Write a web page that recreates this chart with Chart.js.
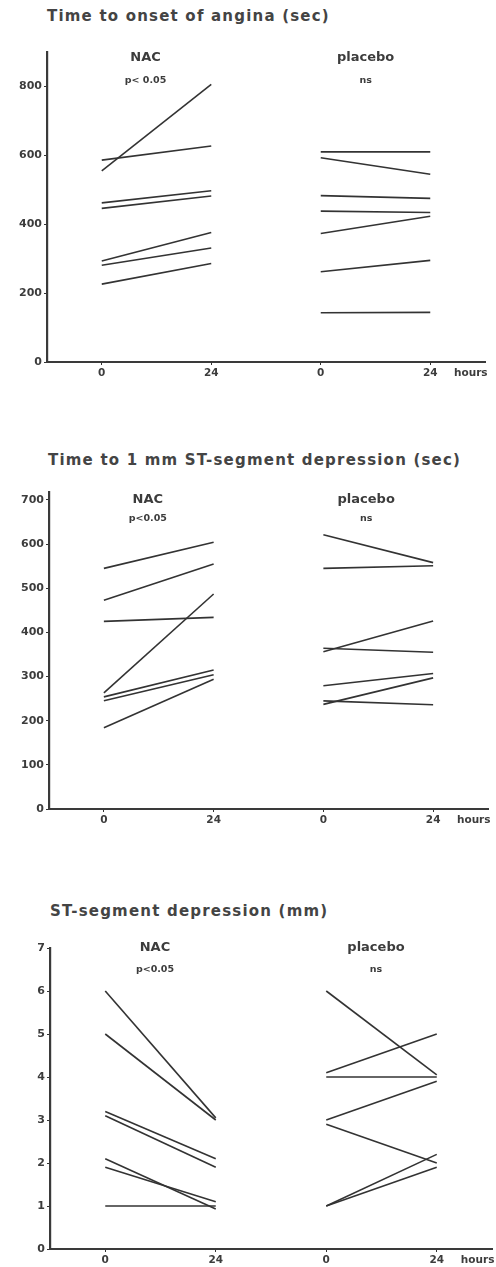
<!DOCTYPE html>
<html>
<head>
<meta charset="utf-8">
<script src="https://cdn.jsdelivr.net/npm/chart.js@4.4.1/dist/chart.umd.min.js"></script>
<style>
  body { margin:0; background:#fff; width:496px; height:1267px; position:relative; overflow:hidden; font-family:'DejaVu Sans', sans-serif; }
  .title { position:absolute; font-size:15px; font-weight:bold; color:#444; white-space:nowrap; letter-spacing:1.2px; }
  .panel { position:absolute; left:0; width:496px; }
</style>
</head>
<body>
<div class="title" style="left:47px;top:7px;">Time to onset of angina (sec)</div>
<div class="panel" style="top:40px;height:350px;"><canvas id="chart-angina"></canvas></div>

<div class="title" style="left:48px;top:451px;">Time to 1 mm ST-segment depression (sec)</div>
<div class="panel" style="top:480px;height:360px;"><canvas id="chart-st-time"></canvas></div>

<div class="title" style="left:50px;top:902px;">ST-segment depression (mm)</div>
<div class="panel" style="top:935px;height:332px;"><canvas id="chart-st-dep"></canvas></div>

<script>
// x positions: NAC 0h / 24h, placebo 0h / 24h
const xTickValues = [1, 2, 3, 4, 4.37];
const xTickLabels = ['0', '24', '0', '24', 'hours'];

// Time to onset of angina (sec)
const anginaNacBaseline     = [555, 586, 462, 446, 293, 281, 226];
const anginaNac24h          = [806, 627, 497, 482, 376, 331, 286];
const anginaPlaceboBaseline = [610, 593, 483, 438, 373, 262, 143];
const anginaPlacebo24h      = [610, 545, 475, 434, 423, 295, 144];
const anginaTicks = [0, 200, 400, 600, 800];

// Time to 1 mm ST-segment depression (sec)
const stTimeNacBaseline     = [545, 473, 425, 263, 254, 245, 184];
const stTimeNac24h          = [604, 555, 434, 487, 315, 304, 294];
const stTimePlaceboBaseline = [621, 545, 356, 364, 279, 237, 245];
const stTimePlacebo24h      = [558, 551, 426, 355, 307, 297, 236];
const stTimeTicks = [0, 100, 200, 300, 400, 500, 600, 700];

// ST-segment depression (mm)
const stDepNacBaseline     = [6, 5, 3.2, 3.1, 2.1, 1.9, 1.0];
const stDepNac24h          = [3.05, 3.0, 2.1, 1.9, 0.93, 1.1, 1.0];
const stDepPlaceboBaseline = [6, 4.1, 4.0, 3.0, 2.9, 1.0, 1.0];
const stDepPlacebo24h      = [4.05, 5.0, 4.0, 3.9, 2.0, 2.2, 1.9];
const stDepTicks = [0, 1, 2, 3, 4, 5, 6, 7];

const INK = '#333';
const FONT = "'DejaVu Sans', sans-serif";

// draws "NAC / p<0.05" and "placebo / ns" above each group
const groupLabels = {
  id: 'groupLabels',
  afterDraw(chart, args, opts) {
    const { ctx, chartArea, scales } = chart;
    ctx.save();
    ctx.fillStyle = '#3c3c3c';
    ctx.textAlign = 'center';
    ctx.textBaseline = 'middle';
    opts.items.forEach(it => {
      const x = scales.x.getPixelForValue(it.at);
      ctx.font = 'bold 13px ' + FONT;
      ctx.fillText(it.name, x, chartArea.top + opts.nameDy);
      ctx.font = 'bold 9.5px ' + FONT;
      ctx.fillText(it.note, x, chartArea.top + opts.noteDy);
    });
    ctx.restore();
  }
};

function lineSets(before0, after24, x0, x1) {
  return before0.map((v, i) => ({
    data: [{ x: x0, y: v }, { x: x1, y: after24[i] }],
    borderColor: INK, borderWidth: 1.6, pointRadius: 0, showLine: true, tension: 0
  }));
}

function buildPanel(id, p) {
  const ctx = document.getElementById(id);
  new Chart(ctx, {
    type: 'scatter',
    data: {
      datasets: [
        ...lineSets(p.nac0, p.nac24, 1, 2),
        ...lineSets(p.pla0, p.pla24, 3, 4)
      ]
    },
    options: {
      responsive: true, maintainAspectRatio: false, animation: false,
      layout: { padding: { top: p.top, right: p.right, left: 0, bottom: 0 } },
      plugins: {
        legend: { display: false }, tooltip: { enabled: false },
        groupLabels: {
          nameDy: p.nameDy, noteDy: p.noteDy,
          items: [
            { name: 'NAC', note: p.pNote, at: p.nacAt },
            { name: 'placebo', note: 'ns', at: p.plaAt }
          ]
        }
      },
      scales: {
        x: {
          type: 'linear', min: 0.5, max: 4.5,
          afterBuildTicks: s => { s.ticks = xTickValues.map(v => ({ value: v })); },
          afterFit: s => { s.height = p.xh; s.paddingLeft = 0; s.paddingRight = 0; },
          ticks: {
            callback: (v, i) => xTickLabels[i], autoSkip: false, maxRotation: 0,
            color: '#3c3c3c', padding: 2, font: { family: FONT, size: 10.5, weight: 'bold' }
          },
          grid: {
            drawOnChartArea: false, drawTicks: true, tickLength: 3,
            color: c => (c.tick && c.tick.value > 4.1) ? 'rgba(0,0,0,0)' : INK
          },
          border: { display: true, width: 2, color: '#3a3a3a' }
        },
        y: {
          min: 0, max: p.max,
          afterBuildTicks: s => { s.ticks = p.ticks.map(v => ({ value: v })); },
          afterFit: s => { s.width = p.yw; s.paddingTop = 0; s.paddingBottom = 0; },
          ticks: {
            color: '#3c3c3c', padding: 2, font: { family: FONT, size: 11, weight: 'bold' }
          },
          grid: { drawOnChartArea: false, drawTicks: true, tickLength: 3, color: INK },
          border: { display: true, width: 2.2, color: '#3a3a3a' }
        }
      }
    },
    plugins: [groupLabels]
  });
}

buildPanel('chart-angina', {
  nac0: anginaNacBaseline, nac24: anginaNac24h,
  pla0: anginaPlaceboBaseline, pla24: anginaPlacebo24h,
  ticks: anginaTicks, max: 900,
  top: 12, right: 11, xh: 28, yw: 47,
  pNote: 'p< 0.05', nacAt: 1.40, plaAt: 3.41, nameDy: 6, noteDy: 29
});

buildPanel('chart-st-time', {
  nac0: stTimeNacBaseline, nac24: stTimeNac24h,
  pla0: stTimePlaceboBaseline, pla24: stTimePlacebo24h,
  ticks: stTimeTicks, max: 718,
  top: 12, right: 8, xh: 31, yw: 49,
  pNote: 'p<0.05', nacAt: 1.40, plaAt: 3.39, nameDy: 8, noteDy: 27
});

buildPanel('chart-st-dep', {
  nac0: stDepNacBaseline, nac24: stDepNac24h,
  pla0: stDepPlaceboBaseline, pla24: stDepPlacebo24h,
  ticks: stDepTicks, max: 7,
  top: 13, right: 4, xh: 18, yw: 50,
  pNote: 'p<0.05', nacAt: 1.45, plaAt: 3.45, nameDy: 0, noteDy: 22
});
</script>
</body>
</html>
